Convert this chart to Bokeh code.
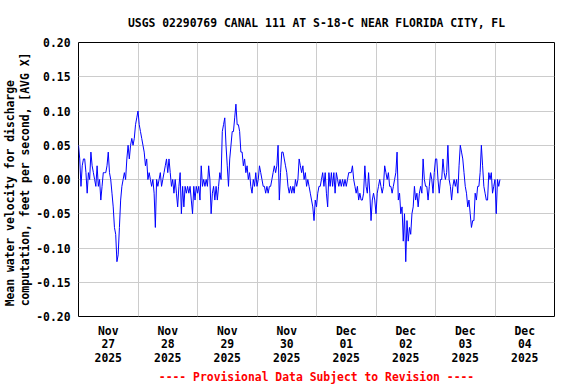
from bokeh.plotting import figure
from bokeh.models import Range1d, FixedTicker, NumeralTickFormatter, Title
from bokeh.embed import file_html
from bokeh.resources import INLINE

# ---- data (half-hourly readings from Nov 27 00:00) ----
title_text = "USGS 02290769 CANAL 111 AT S-18-C NEAR FLORIDA CITY, FL"
y_label_line1 = "Mean water velocity for discharge"
y_label_line2 = "computation, feet per second, [AVG X]"
footer_text = "---- Provisional Data Subject to Revision ----"

step_hours = 0.5
velocity = [
    0.05, 0.03, -0.01, 0.02, 0.03, 0.03, 0.01, -0.02, 0.01, 0.00, 0.04, 0.02,
    0.01, 0.00, -0.01, 0.02, -0.01, 0.00, -0.03, -0.01, 0.01, 0.01, 0.01, 0.02,
    0.04, 0.01, 0.00, -0.02, -0.04, -0.07, -0.08, -0.12, -0.11, -0.07, -0.03, -0.01,
    0.00, 0.01, 0.00, 0.03, 0.05, 0.03, 0.05, 0.06, 0.05, 0.06, 0.08, 0.09,
    0.10, 0.08, 0.07, 0.06, 0.05, 0.04, 0.02, 0.03, 0.00, 0.01, 0.00, -0.01,
    0.00, -0.02, -0.07, 0.00, -0.01, 0.00, 0.01, -0.01, 0.00, 0.01, 0.02,
    0.03, 0.01, 0.03, 0.01, -0.01, 0.00, -0.02, 0.00, -0.02, -0.04, -0.01, 0.01,
    -0.05, -0.01, -0.04, -0.01, -0.02, -0.01, -0.02, -0.01, -0.03, -0.05, -0.01, -0.03,
    -0.01, -0.02, -0.01, -0.03, 0.02, -0.01, 0.00, -0.01, 0.00, -0.01, 0.02, 0.00,
    -0.05, -0.02, -0.01, -0.03, -0.01, -0.03, -0.01, 0.01, 0.00, 0.07, 0.08, 0.09,
    0.05, 0.02, -0.01, 0.03, 0.05, 0.07, 0.07, 0.09, 0.11, 0.08, 0.08, 0.07,
    0.04, 0.04, 0.02, 0.03, 0.01, 0.02, 0.00, 0.01, -0.01, -0.02,
    0.00, -0.01, 0.01, -0.01, 0.00, 0.02, 0.01, 0.00, -0.01, -0.01, -0.02, -0.01,
    -0.02, -0.01, -0.01, 0.00, 0.01, 0.02, 0.01, 0.02, 0.05, -0.03, 0.01, 0.04,
    0.04, 0.03, 0.02, 0.01, -0.01, -0.02, -0.01, -0.02, -0.01, -0.02, 0.00, -0.01,
    0.00, 0.03, 0.02, 0.01, 0.02, 0.00, 0.01, -0.01, 0.00, -0.01, -0.02, -0.03,
    -0.04, -0.06, -0.03, -0.04, -0.02, -0.01, -0.01, 0.00, 0.01, -0.01, 0.01, -0.02,
    -0.04, 0.01, -0.01, 0.01, -0.01, 0.01, -0.02, 0.01, 0.00,
    -0.01, 0.00, -0.01, 0.00, -0.01, 0.00, -0.01, 0.00, 0.01, 0.01, 0.01, 0.02,
    0.00, -0.01, -0.02, -0.01, -0.03, -0.02, -0.03, -0.03, -0.02, 0.02, -0.01, -0.02,
    0.01, -0.02, -0.06, -0.03, -0.02, -0.03, -0.05, -0.02, -0.01, 0.00, -0.01, -0.02,
    -0.01, 0.02, 0.01, 0.00, 0.01, -0.01, -0.01, -0.02, -0.01, 0.00, 0.01, 0.04,
    -0.03, -0.02, -0.05, -0.04, -0.09, -0.05, -0.12, -0.06, -0.09, -0.07, -0.08, -0.05,
    -0.04, -0.01, -0.03, -0.02, -0.04, -0.02, -0.01, -0.02, 0.03,
    0.00, -0.01, -0.01, -0.03, -0.01, 0.01, 0.00, -0.02, 0.01, 0.03, 0.03, 0.00,
    -0.02, 0.00, 0.00, 0.03, 0.01, 0.00, 0.01, 0.05, 0.00, -0.01, -0.03, -0.01,
    0.00, -0.01, 0.00, -0.02, 0.02, 0.05, 0.04, 0.03, 0.01, -0.01, -0.02, -0.04,
    -0.03, -0.05, -0.07, -0.06, -0.06, -0.02, -0.03, -0.01, -0.01, 0.01, 0.05, 0.02,
    -0.01, -0.02, -0.03, -0.03, 0.01, 0.00, 0.01, -0.02, -0.01, 0.00, -0.05, 0.00,
    -0.01, 0.00,
]
hours = [i * step_hours for i in range(len(velocity))]

# day labels (centred on each day) and day boundaries (grid lines)
day_label_hours = [12, 36, 60, 84, 108, 132, 156, 180]
day_labels = ["Nov\n27\n2025", "Nov\n28\n2025", "Nov\n29\n2025", "Nov\n30\n2025",
              "Dec\n01\n2025", "Dec\n02\n2025", "Dec\n03\n2025", "Dec\n04\n2025"]
day_boundary_hours = [24, 48, 72, 96, 120, 144, 168]
y_ticks = [-0.20, -0.15, -0.10, -0.05, 0.00, 0.05, 0.10, 0.15, 0.20]

FONT = "DejaVu Sans Mono"
FSIZE = "11.4px"

p = figure(width=560, height=384, output_backend="svg", toolbar_location=None,
           x_range=Range1d(0, 192), y_range=Range1d(-0.2, 0.2),
           min_border_left=78, min_border_right=6, min_border_top=42,
           min_border_bottom=68)
p.background_fill_color = "white"
p.border_fill_color = "white"
p.outline_line_color = "black"
p.outline_line_width = 1

p.line(hours, velocity, line_color="#0000ff", line_width=1)

# title
p.title.text = title_text
p.title.align = "center"
p.title.text_font = FONT
p.title.text_font_style = "bold"
p.title.text_font_size = FSIZE
p.title.text_color = "black"
p.title.standoff = 26

# footer
p.add_layout(Title(text=footer_text, align="center", text_font=FONT,
                   text_font_style="bold", text_font_size=FSIZE,
                   text_color="#ff0000", standoff=0), "below")

# axes
p.xaxis.ticker = FixedTicker(ticks=day_label_hours)
p.xaxis.major_label_overrides = {h: lab for h, lab in zip(day_label_hours, day_labels)}
p.yaxis.ticker = FixedTicker(ticks=y_ticks)
p.yaxis.formatter = NumeralTickFormatter(format="0.00")
for ax in (p.xaxis[0], p.yaxis[0]):
    ax.axis_line_color = None
    ax.major_tick_line_color = None
    ax.minor_tick_line_color = None
    ax.major_tick_out = 0
    ax.major_tick_in = 0
    ax.major_label_text_font = FONT
    ax.major_label_text_font_style = "bold"
    ax.major_label_text_font_size = FSIZE
    ax.major_label_text_color = "black"
p.yaxis.major_label_standoff = 8
p.xaxis.major_label_standoff = 7
p.xaxis.major_label_text_line_height = 0.98

pad = "\u00a0" * (len(y_label_line2) - len(y_label_line1))
p.yaxis.axis_label = y_label_line1 + pad + "\n" + y_label_line2
p.yaxis.axis_label_text_font = FONT
p.yaxis.axis_label_text_font_style = "bold"
p.yaxis.axis_label_text_font_size = FSIZE
p.yaxis.axis_label_text_color = "black"
p.yaxis.axis_label_standoff = 1
p.yaxis.axis_label_text_line_height = 1.07

p.xgrid.ticker = FixedTicker(ticks=day_boundary_hours)
p.ygrid.ticker = FixedTicker(ticks=y_ticks)
for g in (p.xgrid[0], p.ygrid[0]):
    g.grid_line_color = "#cccccc"
    g.grid_line_width = 1

open("out.html", "w").write(file_html(p, INLINE))
